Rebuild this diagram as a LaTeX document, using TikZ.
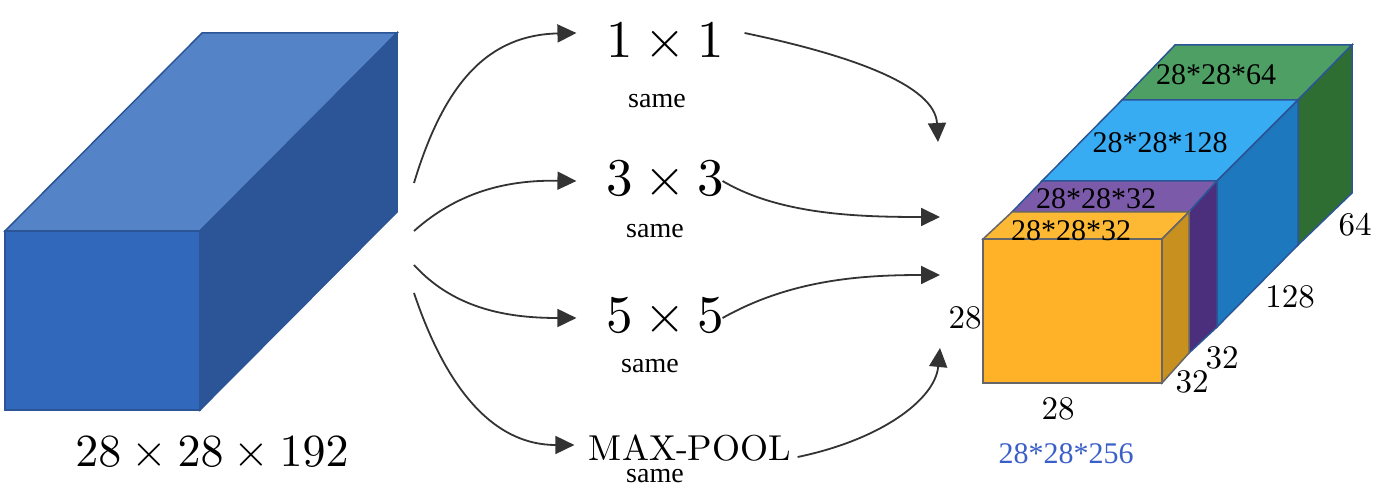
\documentclass[tikz,border=0pt]{standalone}
\usepackage{fontspec}
\usepackage{tikz}
\usetikzlibrary{arrows.meta}
\newfontfamily\labelfont{Liberation Serif}
\definecolor{inblue}{HTML}{3268BC}
\definecolor{intop}{HTML}{5583C8}
\definecolor{inside}{HTML}{2B5596}
\definecolor{otgreen}{HTML}{4E9F63}
\definecolor{otgreend}{HTML}{2F6E33}
\definecolor{otsky}{HTML}{38ACF2}
\definecolor{otskyd}{HTML}{1E78BE}
\definecolor{otpurple}{HTML}{7B5BA9}
\definecolor{otpurpled}{HTML}{4B2F7C}
\definecolor{otorange}{HTML}{FFB127}
\definecolor{otorangel}{HTML}{FDB933}
\definecolor{otoranged}{HTML}{C8901F}
\definecolor{sumblue}{HTML}{3A5FC8}
\tikzset{
  kernel/.style={scale=5.3, inner xsep=4.85pt, inner ysep=0pt},
  padlabel/.style={font=\labelfont\fontsize{28}{30}\selectfont, inner sep=0pt},
  facelabel/.style={font=\labelfont\fontsize{30}{32}\selectfont, inner sep=0pt},
  dimlabel/.style={scale=3.3, inner sep=0pt},
  flow/.style={draw=black!80, line width=1.8pt, -{Triangle[length=19pt,width=18pt]}}
}

\begin{document}
\begin{tikzpicture}[x=1pt, y=-1pt, line width=1.5pt]
  \useasboundingbox (0,0) rectangle (1373,486);

  % input volume
  \filldraw[draw=inside, fill=inblue] (5,231) rectangle (200,410);
  \filldraw[draw=inside, fill=intop] (5,231) -- (202,33) -- (397,33) -- (200,231) -- cycle;
  \filldraw[draw=inside, fill=inside] (200,231) -- (397,33) -- (397,212) -- (200,410) -- cycle;
  \node[scale=4.6, inner sep=0pt] (input) at (212,454) {$28\times28\times192$};

  % green slab, the rearmost
  \filldraw[draw=inside, fill=otgreen] (1122,100) -- (1175,45) -- (1352,45) -- (1298,100) -- cycle;
  \filldraw[draw=inside, fill=otgreend] (1298,100) -- (1352,45) -- (1352,193) -- (1298,245) -- cycle;
  % sky blue slab
  \filldraw[draw=inside, fill=otsky] (1042,181) -- (1122,100) -- (1298,100) -- (1217,181) -- cycle;
  \filldraw[draw=inside, fill=otskyd] (1217,181) -- (1298,100) -- (1298,245) -- (1217,327) -- cycle;
  % purple slab
  \filldraw[draw=inside, fill=otpurple] (1012,212) -- (1042,181) -- (1217,181) -- (1189,212) -- cycle;
  \filldraw[draw=inside, fill=otpurpled] (1189,212) -- (1217,181) -- (1217,327) -- (1189,353) -- cycle;
  % orange slab, the front one
  \filldraw[draw=black!60, fill=otorange] (983,239) rectangle (1162,383);
  \filldraw[draw=black!60, fill=otorangel] (983,239) -- (1012,212) -- (1189,212) -- (1162,239) -- cycle;
  \filldraw[draw=black!60, fill=otoranged] (1162,239) -- (1189,212) -- (1189,353) -- (1162,383) -- cycle;

  % sizes on the faces
  \node[facelabel] (green) at (1216,75) {28*28*64};
  \node[facelabel] (sky) at (1160,143) {28*28*128};
  \node[facelabel] (purple) at (1096,199) {28*28*32};
  \node[facelabel] (orange) at (1071,231) {28*28*32};
  \node[facelabel, text=sumblue] (total) at (1066,454) {28*28*256};

  % edge lengths
  \node[dimlabel] (hgt) at (965,318) {28};
  \node[dimlabel] (wid) at (1058,409) {28};
  \node[dimlabel] (dpa) at (1192,382) {32};
  \node[dimlabel] (dpb) at (1222,358) {32};
  \node[dimlabel] (dpc) at (1290,297) {128};
  \node[dimlabel] (dpd) at (1355,225) {64};

  % filters in the middle
  \node[kernel] (one) at (665,43) {$1\times1$};
  \node[kernel] (three) at (665,181) {$3\times3$};
  \node[kernel] (five) at (665,318) {$5\times5$};
  \node[scale=3.6, inner xsep=3.3pt, inner ysep=0pt] (pool) at (690,448) {MAX-POOL};
  \node[padlabel] (sone) at (657,101) {same};
  \node[padlabel] (sthree) at (655,231) {same};
  \node[padlabel] (sfive) at (650,366) {same};
  \node[padlabel] (spool) at (655,476) {same};

  % free ends of the arrows
  \coordinate (froma) at (414,183);
  \coordinate (fromb) at (414,231);
  \coordinate (fromc) at (414,265);
  \coordinate (fromd) at (414,293);
  \coordinate (toa) at (938,142);
  \coordinate (tob) at (940,217);
  \coordinate (toc) at (940,275);
  \coordinate (tod) at (940,348);

  % arrows into the filters
  \draw[flow] (froma) .. controls (445,80) and (490,35) .. ([yshift=10pt]one.west);
  \draw[flow] (fromb) .. controls (460,190) and (510,180) .. (three.west);
  \draw[flow] (fromc) .. controls (455,310) and (510,318) .. (five.west);
  \draw[flow] (fromd) .. controls (450,400) and (500,445) .. ([yshift=3pt]pool.west);

  % arrows out of the filters
  \draw[flow] ([xshift=-9pt,yshift=10pt]one.east) .. controls (850,55) and (935,85) .. (toa);
  \draw[flow] ([xshift=-31pt]three.east) .. controls (780,215) and (860,217) .. (tob);
  \draw[flow] ([xshift=-31pt]five.east) .. controls (790,280) and (860,275) .. (toc);
  \draw[flow] ([xshift=-8pt,yshift=-9pt]pool.east) .. controls (880,440) and (935,400) .. (tod);
\end{tikzpicture}
\end{document}
